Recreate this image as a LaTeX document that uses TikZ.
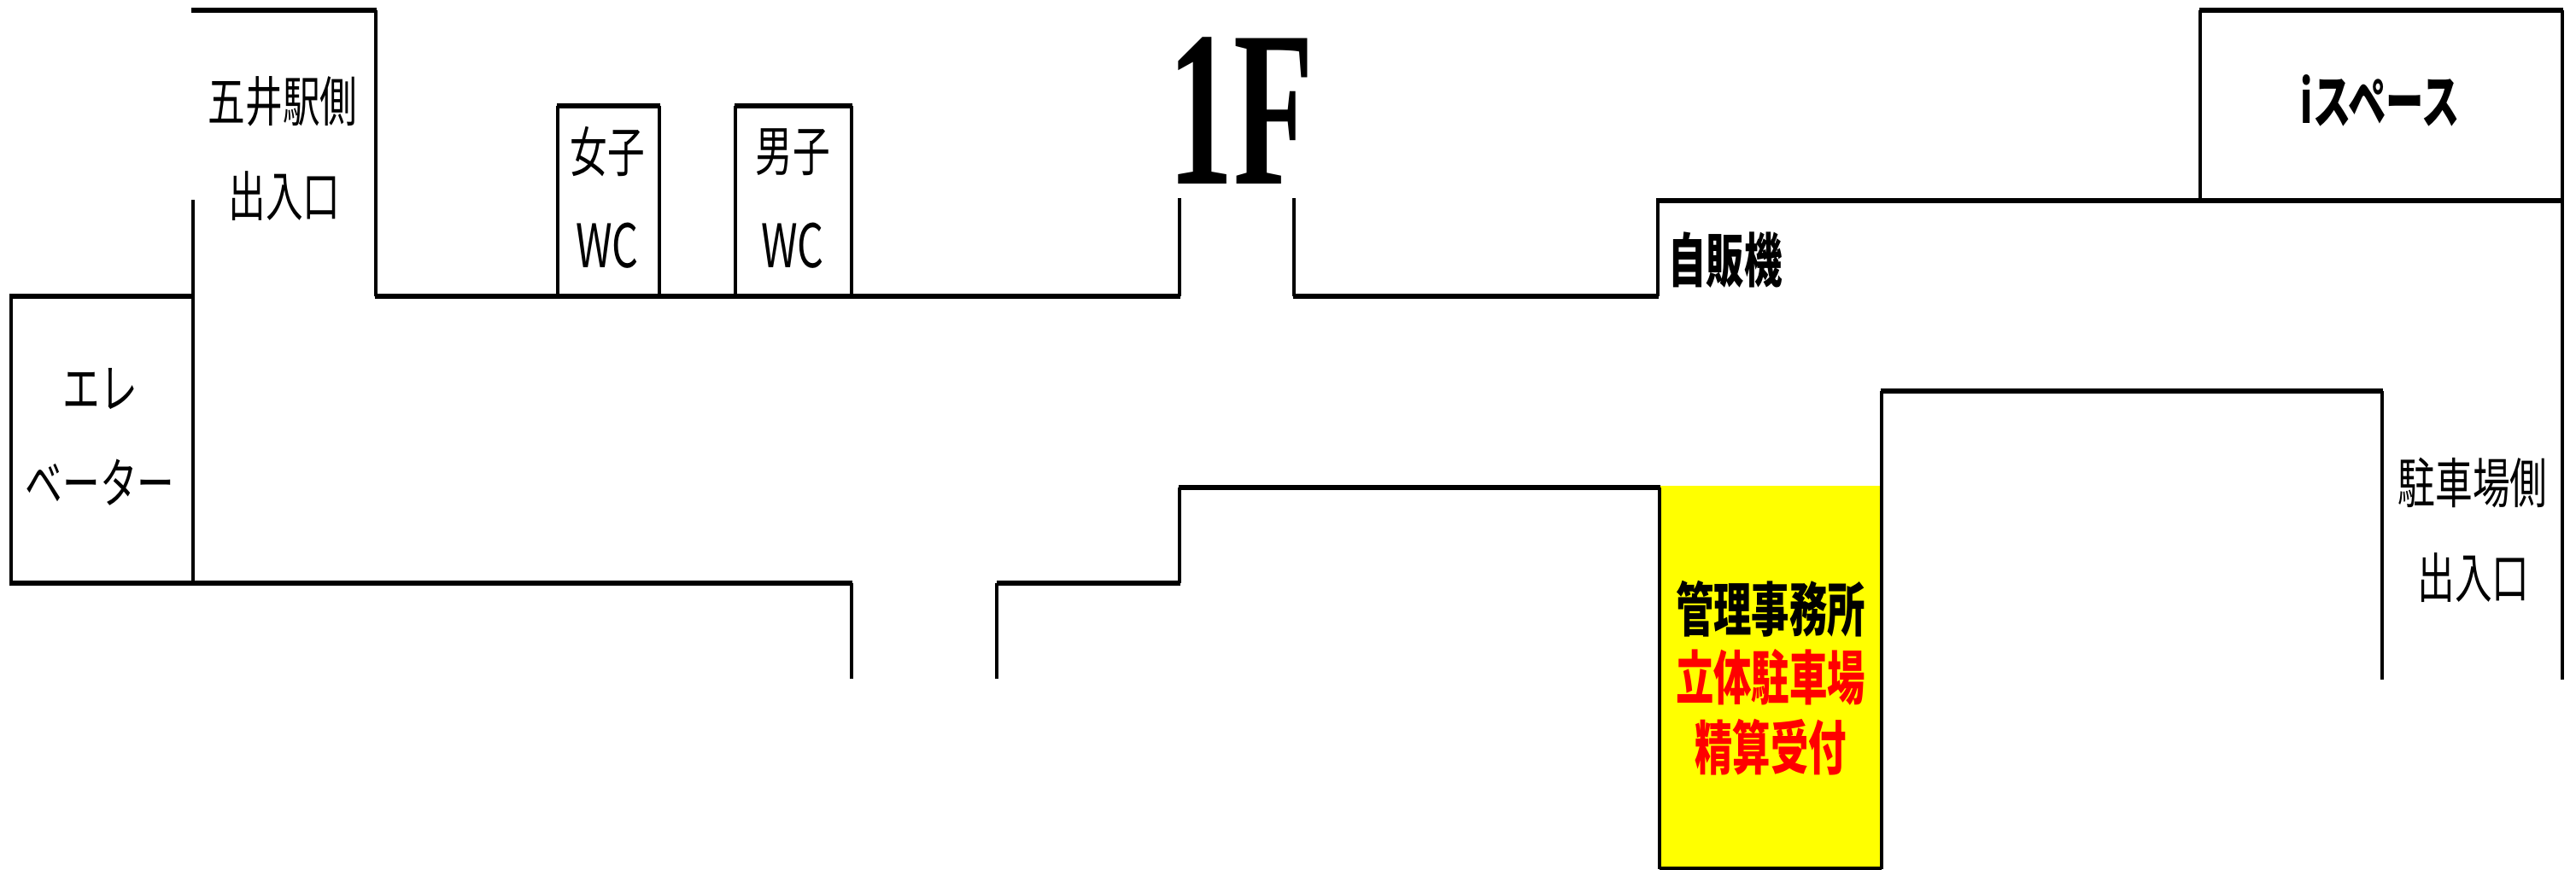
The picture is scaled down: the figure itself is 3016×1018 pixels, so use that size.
\documentclass[tikz,border=0pt]{standalone}
\usepackage{fontspec}
\setmainfont{Noto Sans CJK JP}
\newfontfamily\floorfont{Liberation Serif}
\definecolor{officeyellow}{RGB}{255,255,0}
\definecolor{officered}{RGB}{255,0,0}
\tikzset{
 hwall/.style={line width=0.06cm,line cap=rect},
 vwall/.style={line width=0.04cm},
 thinlabel/.style={inner sep=0pt,xscale=0.69,font=\fontsize{18}{20}\selectfont},
 wclabel/.style={inner sep=0pt,xscale=0.69,font=\fontsize{20}{20}\selectfont},
 boldlabel/.style={inner sep=0pt,xscale=0.647,font=\fontsize{19.5}{20}\selectfont\bfseries},
}
\begin{document}
\begin{tikzpicture}[x=0.01cm,y=-0.01cm]
 \useasboundingbox (0,0) rectangle (3016,1018);
 \fill[officeyellow] (1943,569) rectangle (2203,1016);
%walls
 \foreach \ya/\xa/\xb in {12/227/438, 347/14/224, 347/442/1379, 347/1517/1939,
  235/1943/2999, 12/2578/2998, 124/655/770, 124/863/995, 683/14/995,
  683/1170/1379, 571/1383/1941, 458/2205/2787} {
  \draw[hwall] (\xa,\ya) -- (\xb,\ya);
 }
 \draw[vwall] (1943,1017) -- (2203,1017);
 \foreach \xa/\ya/\yb in {226/234/683, 440/12/347, 13/347/683, 653/124/350, 772/124/347,
  861/124/350, 997/124/347, 1381/232/347, 1515/232/347, 1941/232/347, 2576/12/235,
  3000/12/796, 997/683/795, 1167/683/795, 1381/571/683, 1943/571/1018, 2203/458/1018,
  2789/458/796} {
  \draw[vwall] (\xa,\ya) -- (\xa,\yb);
 }
%rooms
 \node[thinlabel] (station) at (331,119) {五井駅側};
 \node[thinlabel] (stationdoor) at (333,230) {出入口};
 \node[thinlabel] (women) at (711,178) {女子};
 \node[wclabel] (womenwc) at (711,288) {WC};
 \node[thinlabel] (men) at (928,178) {男子};
 \node[wclabel] (menwc) at (928,288) {WC};
 \node[thinlabel] (elevatora) at (117,456) {エレ};
 \node[thinlabel] (elevatorb) at (117,565) {ベーター};
 \node[thinlabel] (parking) at (2895,565) {駐車場側};
 \node[thinlabel] (parkingdoor) at (2896,677) {出入口};
 \node[boldlabel] (vending) at (2020,305) {自販機};
 \node[boldlabel] (ispace) at (2787,118) {iスペース};
 \node[boldlabel] (office) at (2073,713) {管理事務所};
 \node[boldlabel,officered] (garage) at (2073,793) {立体駐車場};
 \node[boldlabel,officered] (payment) at (2073,875) {精算受付};
 \node[inner sep=0pt,xscale=0.59,font=\fontsize{74}{74}\selectfont\floorfont\bfseries] (floor) at (1453,130) {1F};
\end{tikzpicture}
\end{document}
